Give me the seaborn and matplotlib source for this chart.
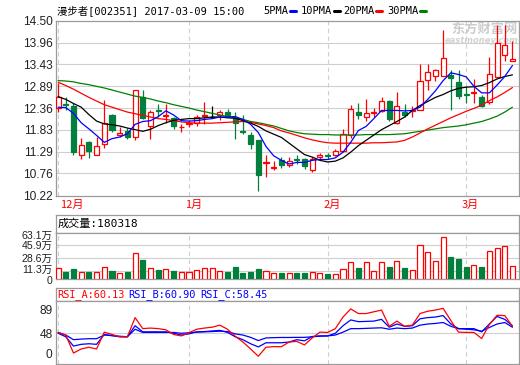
import matplotlib
matplotlib.use("Agg")
import matplotlib.pyplot as plt
import matplotlib.transforms as mtransforms
from matplotlib.patches import Rectangle
from matplotlib.lines import Line2D
import seaborn as sns

# ---- data (60 trading days, 2016-12-08 .. 2017-03-09) ----
open_ = [12.37, 12.47, 12.40, 11.22, 11.54, 11.22, 11.48, 12.19, 11.71, 11.79,
         11.65, 12.62, 11.91, 12.30, 12.17, 12.12, 11.89, 11.98, 12.00, 12.16,
         12.15, 12.18, 12.26, 12.12, 11.79, 11.69, 11.57, 11.01, 10.89, 11.10,
         10.96, 11.11, 11.12, 10.85, 11.16, 11.20, 11.22, 11.30, 11.69, 12.26,
         12.14, 12.24, 12.28, 12.52, 12.00, 12.26, 12.28, 12.32, 13.05, 13.14,
         13.14, 13.17, 12.99, 12.70, 12.72, 12.64, 12.50, 13.11, 13.66, 13.50]
high = [12.98, 12.64, 12.48, 11.63, 11.55, 11.66, 12.56, 12.22, 11.89, 11.87,
        12.81, 12.79, 12.30, 12.47, 12.46, 12.15, 11.98, 12.07, 12.19, 12.50,
        12.40, 12.32, 12.34, 12.26, 12.18, 11.77, 11.57, 11.20, 11.07, 11.16,
        11.16, 11.20, 11.14, 11.16, 11.26, 11.26, 11.35, 11.85, 12.44, 12.49,
        12.59, 12.36, 12.64, 12.55, 12.76, 12.46, 12.40, 13.44, 13.44, 13.32,
        14.26, 13.28, 13.30, 12.91, 13.07, 12.69, 13.60, 14.38, 14.38, 13.99]
low = [12.26, 12.30, 11.22, 11.11, 11.13, 11.22, 11.39, 11.77, 11.65, 11.61,
       11.58, 12.10, 11.61, 12.14, 11.99, 11.85, 11.78, 11.89, 11.93, 11.97,
       12.12, 12.07, 12.16, 11.61, 11.73, 11.36, 10.33, 10.67, 10.85, 10.90,
       10.91, 10.99, 10.87, 10.79, 11.09, 11.12, 11.19, 11.28, 11.62, 12.08,
       12.03, 12.14, 12.26, 12.04, 11.97, 12.14, 12.15, 12.30, 12.81, 13.03,
       13.14, 12.32, 12.59, 12.48, 12.49, 12.38, 12.46, 13.11, 13.52, 13.50]
close = [12.64, 12.44, 11.28, 11.46, 11.32, 11.43, 12.00, 11.81, 11.76, 11.65,
         12.80, 12.12, 12.27, 12.28, 12.19, 11.91, 11.90, 12.00, 12.14, 12.18,
         12.15, 12.26, 12.18, 12.00, 11.77, 11.48, 10.71, 11.03, 10.92, 10.97,
         11.06, 11.10, 10.94, 11.12, 11.22, 11.19, 11.30, 11.73, 12.34, 12.19,
         12.23, 12.26, 12.53, 12.08, 12.40, 12.20, 12.30, 13.03, 13.25, 13.28,
         13.58, 13.09, 12.65, 12.69, 12.74, 12.42, 13.20, 13.95, 13.91, 13.56]
volume = [145000, 99000, 136000, 99000, 99000, 91000, 159000, 113000, 77000, 99000,
          349000, 258000, 145000, 122000, 132000, 109000, 91000, 91000, 122000, 145000,
          145000, 109000, 99000, 159000, 85000, 99000, 136000, 109000, 77000, 81000,
          81000, 81000, 81000, 95000, 81000, 68000, 64000, 132000, 231000, 149000,
          231000, 109000, 227000, 163000, 244000, 149000, 122000, 461000, 366000, 244000,
          566000, 299000, 271000, 163000, 186000, 163000, 376000, 417000, 444000, 180318]

ma5 = [12.38, 12.37, 12.23, 12.00, 11.85, 11.69, 11.52, 11.61, 11.65, 11.73,
       11.96, 12.03, 12.05, 12.15, 12.29, 12.19, 12.05, 12.04, 12.05, 12.08,
       12.10, 12.14, 12.14, 12.15, 12.08, 11.96, 11.76, 11.42, 11.19, 11.08,
       10.99, 11.03, 11.03, 11.08, 11.10, 11.10, 11.14, 11.28, 11.52, 11.81,
       11.91, 12.10, 12.30, 12.30, 12.30, 12.29, 12.30, 12.38, 12.57, 12.78,
       13.03, 13.22, 13.18, 13.12, 12.89, 12.73, 12.73, 12.92, 13.13, 13.40]
ma10 = [12.64, 12.57, 12.47, 12.38, 12.20, 12.04, 11.97, 11.95, 11.92, 11.87,
        11.83, 11.79, 11.84, 11.93, 12.00, 12.06, 12.08, 12.10, 12.10, 12.12,
        12.14, 12.14, 12.12, 12.11, 12.05, 11.99, 11.91, 11.80, 11.72, 11.64,
        11.50, 11.36, 11.22, 11.16, 11.08, 11.04, 11.06, 11.14, 11.28, 11.44,
        11.57, 11.70, 11.83, 11.93, 12.03, 12.14, 12.30, 12.42, 12.52, 12.62,
        12.69, 12.78, 12.84, 12.87, 12.88, 12.91, 12.98, 13.07, 13.13, 13.17]
ma20 = [12.99, 12.91, 12.82, 12.72, 12.62, 12.53, 12.44, 12.38, 12.32, 12.26,
        12.22, 12.18, 12.14, 12.10, 12.08, 12.05, 12.02, 12.00, 11.99, 11.99,
        11.99, 12.00, 12.01, 12.02, 12.03, 12.01, 11.97, 11.93, 11.88, 11.80,
        11.75, 11.69, 11.63, 11.58, 11.54, 11.51, 11.50, 11.50, 11.50, 11.50,
        11.50, 11.51, 11.51, 11.52, 11.53, 11.57, 11.65, 11.75, 11.85, 11.94,
        12.03, 12.12, 12.20, 12.28, 12.35, 12.43, 12.54, 12.63, 12.74, 12.86]
ma30 = [13.03, 13.02, 13.00, 12.96, 12.93, 12.89, 12.85, 12.80, 12.75, 12.70,
        12.65, 12.62, 12.58, 12.53, 12.49, 12.44, 12.40, 12.36, 12.31, 12.27,
        12.23, 12.19, 12.15, 12.12, 12.08, 12.03, 12.00, 11.96, 11.92, 11.86,
        11.80, 11.76, 11.73, 11.72, 11.71, 11.71, 11.70, 11.70, 11.70, 11.70,
        11.71, 11.71, 11.71, 11.71, 11.72, 11.73, 11.76, 11.79, 11.82, 11.85,
        11.88, 11.90, 11.92, 11.95, 11.99, 12.03, 12.09, 12.16, 12.26, 12.38]

rsi_a = [49.5, 45, 14, 21, 24, 21, 50, 46, 42, 42,
         75, 56, 57, 56, 54, 46, 43.5, 49, 55, 57,
         58.5, 62, 55, 43, 33, 21, 8.5, 24, 25, 25,
         33, 34, 28, 40, 50, 49.5, 56, 76, 90, 82,
         82, 85, 88, 60, 69, 60, 62, 82, 86, 88,
         91, 70, 50, 49.5, 49.5, 39, 63, 79, 78.5, 60.13]
rsi_b = [48, 42, 26, 29, 30, 29, 46, 44, 42, 42,
         61, 50.5, 50.5, 50.5, 50.5, 48, 45, 47, 50.5, 51,
         52, 53, 49.5, 42, 37, 30, 24.6, 31.7, 31.7, 31.7,
         33, 37, 35, 42.5, 43.5, 43.5, 48, 61, 71, 68,
         68.5, 69, 72, 58.5, 64, 60, 61, 73, 75, 76,
         78.5, 64, 56, 56, 56, 50.5, 64, 77, 72, 60.90]
rsi_c = [49.5, 45, 37, 38, 38.7, 38.7, 45, 44, 43, 42,
         55, 49.5, 49.5, 49.5, 49.5, 49.5, 48, 49, 50, 50.5,
         51, 51.6, 51, 47, 45, 41, 35.5, 40, 40.5, 40.8,
         40.8, 41, 41, 42, 43, 43.5, 45, 50, 56, 56,
         56.5, 57, 57.5, 55, 57, 56, 57, 62, 64, 65,
         66.6, 60, 56, 55, 54, 51.6, 58, 64, 66.6, 58.45]

month_labels = ["12月", "1月", "2月", "3月"]
month_starts = [0, 17, 35, 53]
price_ticks = [10.22, 10.76, 11.29, 11.83, 12.36, 12.89, 13.43, 13.96, 14.50]
vol_ticks = [0, 113000, 286000, 459000, 631000]
vol_labels = ["0", "11.3万", "28.6万", "45.9万", "63.1万"]
rsi_ticks = [0, 48, 89]

RED = "#ff0000"
GREEN = "#00803c"
GRID = "#cfcfcf"
BORDER = "#9a9a9a"
MONO = ["DejaVu Sans Mono", "Noto Sans CJK SC"]
NUM = ["Liberation Sans", "Noto Sans CJK SC"]

sns.set_theme(style="white")
plt.rcParams["font.family"] = NUM

W, H = 520, 365
fig = plt.figure(figsize=(W / 100, H / 100), dpi=100)


def box(x0, y0, x1, y1):
    return [x0 / W, 1 - y1 / H, (x1 - x0) / W, (y1 - y0) / H]


def nudge(label, dy_px):
    # shift a tick label vertically by a few pixels
    label.set_transform(label.get_transform() +
                        mtransforms.ScaledTranslation(0, dy_px / 100, fig.dpi_scale_trans))


ax_p = fig.add_axes(box(56, 20.5, 519, 195.5))
ax_vh = fig.add_axes(box(56, 215, 519, 232.5))
ax_v = fig.add_axes(box(56, 232.5, 519, 279))
ax_rh = fig.add_axes(box(56, 287.5, 519, 301))
ax_r = fig.add_axes(box(56, 301, 519, 363.5))

n = len(close)
idx = list(range(n))
xlim = (-0.27, 59.85)
bw = 0.66


def frame(ax):
    for s in ax.spines.values():
        s.set_color(BORDER)
        s.set_linewidth(0.9)
    ax.set_xlim(*xlim)
    ax.set_xticks([])
    ax.tick_params(axis="y", length=0, pad=2.5, labelsize=8.6, labelcolor="#222222")
    for m in month_starts:
        ax.axvline(m, color=GRID, lw=0.8, ls=(0, (4, 3)), zorder=0)


for ax in (ax_vh, ax_rh):
    for s in ax.spines.values():
        s.set_color(BORDER)
        s.set_linewidth(0.9)
    ax.set_xticks([])
    ax.set_yticks([])

# ---- price panel ----
frame(ax_p)
ax_p.set_ylim(10.22, 14.50)
ax_p.set_yticks(price_ticks)
ax_p.set_yticklabels([f"{t:.2f}" for t in price_ticks])
for t in price_ticks[1:-1]:
    ax_p.axhline(t, color=GRID, lw=0.8, zorder=0)

for i in idx:
    o, h, l, c = open_[i], high[i], low[i], close[i]
    col = RED if c > o else (GREEN if c < o else "black")
    ax_p.vlines(i, l, h, color=col, lw=0.9, zorder=2)
    if c > o:
        ax_p.add_patch(Rectangle((i - bw / 2, o), bw, c - o, facecolor="white",
                                 edgecolor=col, lw=0.9, zorder=3))
    elif c < o:
        ax_p.add_patch(Rectangle((i - bw / 2, c), bw, o - c, facecolor=col,
                                 edgecolor=col, lw=0.9, zorder=3))
    else:
        ax_p.hlines(c, i - bw / 2, i + bw / 2, color=col, lw=0.9, zorder=3)

for ma, col in [(ma30, "#008000"), (ma20, RED), (ma10, "black"), (ma5, "#0000ff")]:
    sns.lineplot(x=idx, y=ma, ax=ax_p, color=col, lw=0.9, zorder=4)
ax_p.set_ylim(10.22, 14.50)
ax_p.set_xlim(*xlim)

# watermark
ax_p.text(518 / W, 1 - 29 / H, "东方财富网", transform=fig.transFigure, ha="right",
          va="center", fontsize=9.5, fontweight="bold", color="#cccccc",
          family=["Noto Sans CJK SC"], zorder=1)
ax_p.text(518 / W, 1 - 40.5 / H, "eastmoney.com", transform=fig.transFigure, ha="right",
          va="center", fontsize=6, fontweight="bold", style="italic", color="#d2d2d2",
          family=["DejaVu Sans"], zorder=1)

# month labels
blend = mtransforms.blended_transform_factory(ax_p.transData, fig.transFigure)
for m, lab in zip(month_starts, month_labels):
    xpos = m + 0.3 if m == 0 else m - 0.55
    ax_p.text(xpos, 1 - 205 / H, lab, transform=blend, ha="left", va="center",
              fontsize=8, color=RED, family=["Noto Sans CJK SC"])

# ---- volume panel ----
frame(ax_v)
ax_v.set_ylim(0, 631000)
ax_v.set_yticks(vol_ticks)
ax_v.set_yticklabels(vol_labels)
ax_v.tick_params(axis="y", labelsize=7.6)
vlabs = ax_v.get_yticklabels()
nudge(vlabs[0], -1.0)
nudge(vlabs[1], 1.5)
nudge(vlabs[-1], -2.0)
for t in vol_ticks[1:-1]:
    ax_v.axhline(t, color=GRID, lw=0.8, zorder=0)
for i in idx:
    up = close[i] >= open_[i]
    if up:
        ax_v.bar(i, volume[i], width=bw, facecolor="white", edgecolor=RED, lw=0.9, zorder=3)
    else:
        ax_v.bar(i, volume[i], width=bw, facecolor=GREEN, edgecolor=GREEN, lw=0.9, zorder=3)
ax_v.set_xlim(*xlim)
ax_vh.text(0.003, 0.5, f"成交量:{volume[-1]}", transform=ax_vh.transAxes,
           ha="left", va="center", fontsize=8, color="black", family=MONO)

# ---- RSI panel ----
frame(ax_r)
ax_r.set_ylim(-4, 103.6)
ax_r.set_yticks(rsi_ticks)
ax_r.set_yticklabels([str(t) for t in rsi_ticks])
ax_r.get_yticklabels()[0].set_va("bottom")
ax_r.axhline(48, color=GRID, lw=0.8, zorder=0)
sns.lineplot(x=idx, y=rsi_c, ax=ax_r, color="#0000ff", lw=0.9, zorder=3)
sns.lineplot(x=idx, y=rsi_b, ax=ax_r, color="#0000ff", lw=0.9, zorder=3)
sns.lineplot(x=idx, y=rsi_a, ax=ax_r, color=RED, lw=0.9, zorder=4)
ax_r.set_xlim(*xlim)
ax_r.set_ylim(-4, 103.6)
for x, txt, col in [(57, f"RSI_A:{rsi_a[-1]:.2f}", RED),
                    (128, f"RSI_B:{rsi_b[-1]:.2f}", "#0000ff"),
                    (200, f"RSI_C:{rsi_c[-1]:.2f}", "#0000ff")]:
    fig.text(x / W, 1 - 294.5 / H, txt, ha="left", va="center", fontsize=7.4,
             color=col, family=MONO)

for ax in (ax_p, ax_v, ax_r):
    ax.set_xlabel("")
    ax.set_ylabel("")

# ---- header line ----
fig.text(57 / W, 1 - 10.5 / H, "漫步者[002351] 2017-03-09 15:00", ha="left", va="center",
         fontsize=7.5, color="black", family=MONO)
for x, lab, col in [(263, "5PMA", "#0000ff"), (301, "10PMA", "black"),
                    (343, "20PMA", RED), (387, "30PMA", "#008000")]:
    fig.text(x / W, 1 - 10.5 / H, lab, ha="left", va="center", fontsize=7.5,
             color="black", family=MONO)
    x1 = x + 6.27 * len(lab) + 2
    fig.add_artist(Line2D([x1 / W, (x1 + 6) / W], [1 - 11 / H, 1 - 11 / H],
                          color=col, lw=2.2, transform=fig.transFigure))

fig.savefig("out.png", dpi=100, facecolor="white")
